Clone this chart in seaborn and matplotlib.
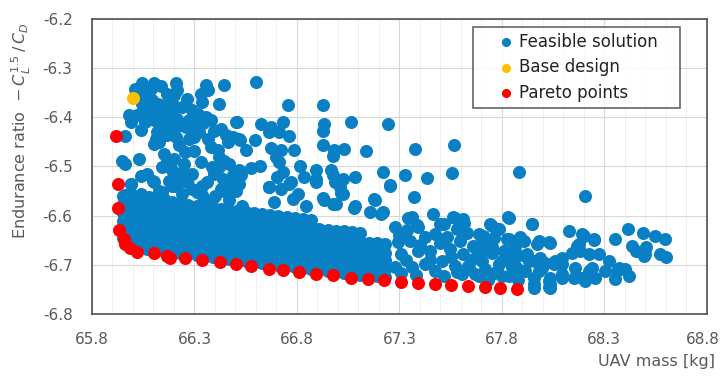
import matplotlib
matplotlib.use("Agg")
import matplotlib.pyplot as plt
import seaborn as sns
import pandas as pd
from matplotlib.ticker import MultipleLocator, FixedLocator
from matplotlib.transforms import ScaledTranslation

# ---------------- data ----------------
pareto_mass = [65.918, 65.927, 65.927, 65.932, 65.957, 65.962, 65.986, 66.021, 66.104, 66.168,
               66.182, 66.256, 66.339, 66.423, 66.501, 66.575, 66.663, 66.731, 66.810, 66.893,
               66.976, 67.065, 67.148, 67.226, 67.310, 67.393, 67.472, 67.550, 67.633, 67.717,
               67.790, 67.874]
pareto_ratio = [-6.439, -6.535, -6.584, -6.629, -6.647, -6.657, -6.665, -6.673, -6.676, -6.682,
                -6.686, -6.686, -6.690, -6.694, -6.698, -6.702, -6.708, -6.710, -6.714, -6.718,
                -6.720, -6.727, -6.729, -6.731, -6.735, -6.737, -6.739, -6.741, -6.743, -6.745,
                -6.747, -6.749]

base_mass = [66.001]
base_ratio = [-6.361]

feasible_upper_left = [
    (66.045, -6.330), (66.102, -6.331), (66.135, -6.337), (66.208, -6.330), (66.217, -6.345),
    (66.356, -6.335), (66.445, -6.335), (66.012, -6.342), (66.061, -6.348), (66.086, -6.342),
    (66.094, -6.365), (66.029, -6.359), (66.045, -6.372), (66.070, -6.382), (66.168, -6.352),
    (66.200, -6.355), (66.176, -6.365), (66.208, -6.379), (66.217, -6.403), (66.151, -6.386),
    (66.127, -6.396), (66.102, -6.406), (66.061, -6.410), (65.980, -6.396), (65.988, -6.410),
    (66.021, -6.396), (66.331, -6.352), (66.339, -6.369), (66.364, -6.345), (66.421, -6.372),
    (66.290, -6.386), (66.315, -6.393), (66.356, -6.399), (66.380, -6.406), (66.307, -6.416),
    (66.274, -6.406), (66.258, -6.420), (66.233, -6.416), (66.200, -6.423), (66.176, -6.413),
    (66.143, -6.420), (66.119, -6.430), (66.110, -6.444), (66.102, -6.454), (66.127, -6.450),
    (66.168, -6.437), (66.208, -6.440), (66.225, -6.457), (66.274, -6.444), (66.298, -6.440),
    (66.364, -6.444), (66.396, -6.427), (66.429, -6.423), (66.454, -6.437), (66.486, -6.440),
    (66.519, -6.444), (66.503, -6.410), (66.462, -6.450), (66.413, -6.467), (66.421, -6.481),
    (66.445, -6.488), (66.470, -6.495), (65.963, -6.439), (65.947, -6.488), (65.963, -6.495),
    (66.029, -6.484), (66.070, -6.515), (66.151, -6.474), (66.168, -6.488), (66.200, -6.484),
    (66.143, -6.501), (66.192, -6.508), (66.225, -6.515), (66.258, -6.515), (66.290, -6.515),
    (66.176, -6.529), (66.200, -6.539), (66.388, -6.501), (66.396, -6.515), (66.437, -6.525),
    (66.486, -6.518), (66.519, -6.508), (66.478, -6.539), (65.988, -6.535),
    (66.060, -6.362), (66.080, -6.390), (66.120, -6.372), (66.155, -6.402), (66.190, -6.392),
    (66.240, -6.380), (66.262, -6.362), (66.282, -6.425), (66.322, -6.430), (66.340, -6.412),
    (66.380, -6.460), (66.252, -6.470), (66.300, -6.468), (66.330, -6.490), (66.040, -6.425),
    (66.040, -6.520), (66.100, -6.530), (66.140, -6.552), (66.262, -6.532), (66.310, -6.552),
    (66.360, -6.532), (66.420, -6.502), (66.452, -6.552), (66.402, -6.560), (66.250, -6.495),
]

feasible_upper_mid = [
    (66.602, -6.328), (66.754, -6.376), (66.926, -6.376), (66.509, -6.410), (66.624, -6.413),
    (66.673, -6.420), (66.730, -6.410), (66.664, -6.430), (66.713, -6.430), (66.759, -6.439),
    (66.934, -6.413), (66.926, -6.427), (67.065, -6.410), (67.244, -6.413), (66.521, -6.446),
    (66.596, -6.447), (66.553, -6.467), (66.673, -6.462), (66.722, -6.467), (66.697, -6.481),
    (66.787, -6.466), (66.926, -6.457), (66.983, -6.467), (67.032, -6.464), (66.975, -6.478),
    (67.135, -6.469), (66.713, -6.491), (66.575, -6.503), (66.619, -6.500), (66.815, -6.500),
    (66.526, -6.518), (66.730, -6.512), (66.705, -6.522), (66.836, -6.522), (66.893, -6.508),
    (66.893, -6.525), (66.967, -6.508), (66.975, -6.518), (67.024, -6.525), (67.081, -6.522),
    (67.220, -6.512), (67.253, -6.539), (66.664, -6.541), (66.763, -6.535), (67.008, -6.541),
    (67.565, -6.457), (67.555, -6.514), (67.378, -6.465), (67.326, -6.518), (67.437, -6.524),
    (67.373, -6.563), (67.462, -6.596), (67.177, -6.567), (67.883, -6.512), (68.207, -6.561),
    (66.927, -6.565), (66.991, -6.576), (67.016, -6.553), (67.079, -6.584), (67.212, -6.596),
    (67.344, -6.604), (67.392, -6.623), (67.516, -6.616), (67.570, -6.604), (67.604, -6.631),
    (67.687, -6.637),
]

feasible_transition = [
    (65.988, -6.535), (66.037, -6.556), (66.102, -6.532), (66.127, -6.549), (66.192, -6.539),
    (66.241, -6.556), (66.339, -6.539), (66.339, -6.559), (66.429, -6.546), (66.503, -6.549),
    (66.225, -6.532), (66.290, -6.546), (65.963, -6.559), (66.078, -6.563), (66.151, -6.566),
    (66.388, -6.569), (66.470, -6.569), (66.519, -6.535), (66.664, -6.542), (66.722, -6.546),
    (66.771, -6.532), (66.893, -6.532), (66.803, -6.556), (66.779, -6.566), (66.934, -6.568),
    (66.988, -6.532), (67.024, -6.556), (67.179, -6.568), (67.253, -6.537), (66.534, -6.580),
    (66.689, -6.573), (66.844, -6.580), (66.975, -6.576), (67.081, -6.580), (67.220, -6.593),
    (67.155, -6.593),
]

band_mass = [65.95, 65.99, 66.03, 66.07, 66.11, 66.15, 66.19, 66.23, 66.27, 66.31, 66.35,
             66.39, 66.43, 66.47, 66.51, 66.55, 66.59, 66.63, 66.67, 66.71, 66.75, 66.79,
             66.83, 66.87, 66.91, 66.95, 66.99, 67.03, 67.07, 67.11, 67.15, 67.19, 67.23]
band_ratio = [
    [-6.645, -6.628, -6.611, -6.594, -6.577, -6.560],
    [-6.660, -6.642, -6.625, -6.606, -6.590, -6.572, -6.556],
    [-6.664, -6.648, -6.630, -6.614, -6.597, -6.580, -6.563],
    [-6.667, -6.652, -6.636, -6.619, -6.601, -6.585, -6.568],
    [-6.668, -6.650, -6.633, -6.615, -6.598, -6.581, -6.566],
    [-6.672, -6.655, -6.638, -6.621, -6.604, -6.588, -6.572],
    [-6.675, -6.659, -6.641, -6.625, -6.607, -6.590, -6.573],
    [-6.676, -6.660, -6.643, -6.627, -6.610, -6.594, -6.577],
    [-6.679, -6.662, -6.646, -6.629, -6.612, -6.596, -6.579],
    [-6.680, -6.663, -6.647, -6.630, -6.613, -6.597, -6.580],
    [-6.682, -6.666, -6.650, -6.633, -6.616, -6.599, -6.583],
    [-6.684, -6.668, -6.651, -6.635, -6.618, -6.601, -6.585],
    [-6.686, -6.670, -6.653, -6.636, -6.619, -6.603, -6.586],
    [-6.688, -6.671, -6.655, -6.638, -6.621, -6.604, -6.588],
    [-6.690, -6.673, -6.657, -6.640, -6.623, -6.606, -6.590],
    [-6.692, -6.676, -6.659, -6.642, -6.626, -6.609, -6.592],
    [-6.694, -6.678, -6.661, -6.645, -6.628, -6.611, -6.594],
    [-6.697, -6.680, -6.663, -6.646, -6.630, -6.613, -6.596],
    [-6.699, -6.682, -6.666, -6.649, -6.632, -6.615, -6.598],
    [-6.701, -6.684, -6.668, -6.651, -6.634, -6.617, -6.600],
    [-6.703, -6.686, -6.670, -6.653, -6.636, -6.619, -6.602],
    [-6.705, -6.688, -6.672, -6.655, -6.638, -6.621, -6.604],
    [-6.707, -6.690, -6.674, -6.657, -6.640, -6.623, -6.606],
    [-6.709, -6.692, -6.676, -6.659, -6.642, -6.625, -6.608],
    [-6.711, -6.694, -6.678, -6.661, -6.644, -6.627],
    [-6.712, -6.696, -6.679, -6.662, -6.646, -6.629],
    [-6.714, -6.697, -6.681, -6.664, -6.647, -6.631],
    [-6.716, -6.699, -6.683, -6.666, -6.649, -6.632],
    [-6.718, -6.701, -6.685, -6.668, -6.651, -6.634],
    [-6.720, -6.703, -6.687, -6.670, -6.653, -6.636],
    [-6.721, -6.704, -6.688, -6.671, -6.655],
    [-6.723, -6.706, -6.690, -6.673, -6.656],
    [-6.724, -6.708, -6.691, -6.675, -6.658],
]

feasible_right = [
    (67.359, -6.603), (67.563, -6.603), (67.612, -6.607), (67.830, -6.602), (67.947, -6.617),
    (67.277, -6.624), (67.335, -6.629), (67.384, -6.620), (67.498, -6.617), (67.580, -6.627),
    (67.743, -6.617), (67.784, -6.627), (67.710, -6.641), (67.473, -6.637), (67.424, -6.644),
    (67.294, -6.654), (67.351, -6.651), (67.531, -6.644), (67.596, -6.651), (67.661, -6.661),
    (67.825, -6.648), (67.890, -6.644), (67.980, -6.651), (68.029, -6.654), (67.310, -6.678),
    (67.392, -6.671), (67.449, -6.671), (67.547, -6.668), (67.612, -6.678), (67.686, -6.678),
    (67.751, -6.675), (67.800, -6.692), (67.865, -6.671), (67.915, -6.682), (67.964, -6.692),
    (67.277, -6.705), (67.359, -6.705), (67.424, -6.699), (67.506, -6.692), (67.571, -6.702),
    (67.637, -6.702), (67.718, -6.709), (67.776, -6.712), (67.849, -6.705), (67.906, -6.712),
    (67.980, -6.712), (68.029, -6.733), (67.955, -6.740), (68.029, -6.746), (67.310, -6.716),
    (67.473, -6.712), (67.604, -6.719), (67.686, -6.722),
    (67.834, -6.604), (67.947, -6.617), (67.751, -6.622), (67.775, -6.627), (67.712, -6.643),
    (67.614, -6.614), (68.128, -6.631), (68.202, -6.641), (68.251, -6.647), (68.354, -6.647),
    (68.413, -6.627), (68.487, -6.636), (68.545, -6.641), (68.594, -6.647), (68.437, -6.661),
    (68.501, -6.663), (68.570, -6.678), (68.599, -6.684), (68.496, -6.678), (68.452, -6.671),
    (67.834, -6.647), (67.864, -6.661), (67.907, -6.651), (67.971, -6.657), (68.035, -6.655),
    (67.668, -6.665), (67.751, -6.663), (67.810, -6.671), (67.922, -6.678), (67.986, -6.686),
    (68.060, -6.692), (68.094, -6.686), (68.143, -6.676), (68.178, -6.657), (68.182, -6.671),
    (68.226, -6.678), (68.275, -6.678), (68.324, -6.692), (68.373, -6.706), (68.403, -6.708),
    (68.422, -6.722), (68.354, -6.729), (68.256, -6.727), (68.192, -6.727), (68.094, -6.718),
    (68.035, -6.727), (68.035, -6.747), (67.957, -6.747), (67.957, -6.727), (67.874, -6.706),
    (67.785, -6.698), (67.702, -6.692), (67.638, -6.706), (67.668, -6.718), (67.751, -6.718),
    (67.834, -6.722), (67.913, -6.712), (67.996, -6.706), (67.932, -6.692), (67.849, -6.688),
    (68.094, -6.698), (68.158, -6.706), (68.241, -6.706), (68.304, -6.712), (68.011, -6.696),
    (67.702, -6.671), (68.192, -6.637), (68.251, -6.649), (68.491, -6.682), (68.168, -6.661),
    (68.364, -6.712), (68.207, -6.733), (68.153, -6.727), (68.094, -6.727), (68.035, -6.739),
    (68.226, -6.712), (68.055, -6.698),
    (67.300, -6.640), (67.330, -6.690), (67.380, -6.720), (67.400, -6.660), (67.450, -6.690),
    (67.500, -6.655), (67.520, -6.722), (67.550, -6.685), (67.580, -6.715), (67.630, -6.635),
    (67.650, -6.690), (67.700, -6.655), (67.730, -6.730), (67.760, -6.645), (67.800, -6.722),
    (67.860, -6.690), (67.880, -6.730),
]

x_ticks = [65.8, 66.3, 66.8, 67.3, 67.8, 68.3, 68.8]
y_ticks = [-6.8, -6.7, -6.6, -6.5, -6.4, -6.3, -6.2]

# ---------------- assemble ----------------
feas_pts = feasible_upper_left + feasible_upper_mid + feasible_transition + feasible_right
for m, col in zip(band_mass, band_ratio):
    for r in col:
        feas_pts.append((m, r))
feasible = pd.DataFrame(feas_pts, columns=["mass", "ratio"])
base = pd.DataFrame({"mass": base_mass, "ratio": base_ratio})
pareto = pd.DataFrame({"mass": pareto_mass, "ratio": pareto_ratio})

# ---------------- plot ----------------
sns.set_theme(style="white")
plt.rcParams["font.family"] = ["DejaVu Sans"]
plt.rcParams["axes.unicode_minus"] = False

fig = plt.figure(figsize=(7.22, 3.79), dpi=100)
ax = fig.add_axes([0.1274, 0.1715, 0.8516, 0.7785])

blue = "#0A80C4"
msize = 88
sns.scatterplot(data=feasible, x="mass", y="ratio", color=blue, s=msize, linewidth=0,
                ax=ax, label="Feasible solution", zorder=3)
sns.scatterplot(data=base, x="mass", y="ratio", color="#FFC000", s=msize, linewidth=0,
                ax=ax, label="Base design", zorder=4)
sns.scatterplot(data=pareto, x="mass", y="ratio", color="#FF0000", s=msize, linewidth=0,
                ax=ax, label="Pareto points", zorder=5)

ax.set_xlim(65.8, 68.8)
ax.set_ylim(-6.8, -6.2)
ax.xaxis.set_major_locator(FixedLocator(x_ticks))
ax.yaxis.set_major_locator(FixedLocator(y_ticks))
ax.xaxis.set_minor_locator(MultipleLocator(0.1))
ax.set_xticklabels([f"{v:.1f}" for v in x_ticks])
ax.set_yticklabels([f"{v:.1f}" for v in y_ticks])

ax.grid(True, which="major", color="#d9d9d9", linewidth=0.8, zorder=0)
ax.grid(True, which="minor", axis="x", color="#f0f0f0", linewidth=0.7, zorder=0)
ax.set_axisbelow(True)

tick_col = "#595959"
ax.tick_params(axis="both", which="both", length=0, labelsize=11, labelcolor=tick_col)
ax.tick_params(axis="y", pad=14)
ax.tick_params(axis="x", pad=13)
last = ax.get_xticklabels()[-1]
last.set_horizontalalignment("right")
last.set_transform(last.get_transform() + ScaledTranslation(9 / 72, 0, fig.dpi_scale_trans))

for sp in ax.spines.values():
    sp.set_visible(True)
    sp.set_color("#505050")
    sp.set_linewidth(1.2)

ax.set_ylabel(r"Endurance ratio  $-\,C_L^{1.5}\,/\,C_D$", fontsize=11.5, color=tick_col)
ax.yaxis.set_label_coords(-0.096, 0.62)
ax.set_xlabel("UAV mass [kg]", fontsize=11.5, color=tick_col, ha="right")
ax.xaxis.set_label_coords(1.013, -0.135)

leg = ax.legend(loc="upper left", bbox_to_anchor=(0.6195, 0.5, 0.3366, 0.473), mode="expand",
                borderaxespad=0, frameon=True, fancybox=False, fontsize=12,
                handlelength=3.3, handletextpad=-0.9, labelspacing=0.45, borderpad=0.35,
                markerscale=0.7)
leg.get_frame().set_edgecolor("#404040")
leg.get_frame().set_linewidth(1.2)
for t in leg.get_texts():
    t.set_color("#222222")

fig.savefig("out.png", dpi=100)
